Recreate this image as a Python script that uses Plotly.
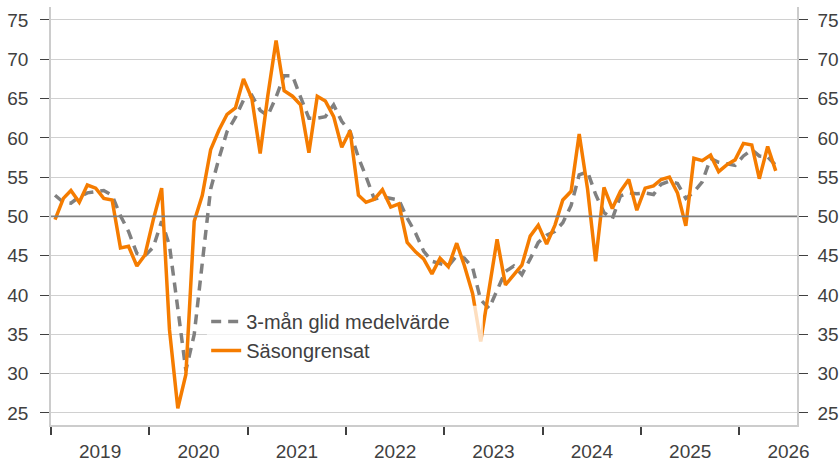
import plotly.graph_objects as go

# Monthly observations, Jan 2019 .. May 2026
months = [f"{2019 + i // 12}-{i % 12 + 1:02d}" for i in range(89)]

sasongrensat = [
    49.6, 52.3, 53.3, 51.8, 54.0, 53.6, 52.3, 52.1, 46.0, 46.2, 43.7, 45.1,
    49.6, 53.6, 35.6, 25.6, 29.9, 49.4, 52.7, 58.5, 61.0, 63.0, 63.8, 67.5,
    65.0, 58.0, 65.3, 72.4, 66.0, 65.3, 64.2, 58.1, 65.3, 64.7, 62.7, 58.8,
    60.9, 52.7, 51.8, 52.2, 53.4, 51.2, 51.6, 46.7, 45.5, 44.6, 42.7, 44.7,
    43.6, 46.6, 43.8, 40.2, 34.1, 40.7, 47.1, 41.3, 42.6, 43.8, 47.5, 48.9,
    46.5, 48.9, 52.1, 53.2, 60.5, 53.5, 44.3, 53.7, 51.0, 53.2, 54.7, 50.8,
    53.6, 53.9, 54.7, 55.0, 53.0, 48.8, 57.4, 57.1, 57.8, 55.7, 56.6, 57.2,
    59.3, 59.1, 54.8, 58.9, 55.8,
]

glid_medel = [
    52.7, 51.8, 51.7, 52.5, 53.0, 53.1, 53.3, 52.7, 50.1, 48.1, 45.3, 45.0,
    46.1, 49.4, 46.3, 38.3, 30.4, 35.0, 44.0, 53.5, 57.4, 60.8, 62.6, 64.8,
    65.4, 63.5, 62.8, 65.2, 67.9, 67.9, 65.2, 62.5, 62.5, 62.7, 64.2, 62.1,
    60.8, 57.5, 55.1, 52.2, 52.5, 52.3, 52.1, 49.8, 47.9, 45.6, 44.3, 44.0,
    43.7, 45.0, 44.7, 43.5, 39.4, 38.3, 40.6, 43.0, 43.7, 42.6, 44.6, 46.7,
    47.6, 48.1, 49.2, 51.4, 55.3, 55.7, 52.8, 50.5, 49.7, 52.6, 53.0, 52.9,
    53.0, 52.8, 54.1, 54.5, 54.2, 52.3, 53.1, 54.4, 57.4, 56.9, 56.7, 56.5,
    57.7, 58.5, 57.7, 57.6, 56.5,
]

x_dates = [m + "-16" for m in months]

FONT = "Liberation Sans, Arial, sans-serif"
TXT = "#404040"
ORANGE = "#F57C00"
GREY = "#808080"

fig = go.Figure()
fig.add_trace(go.Scatter(
    x=x_dates, y=glid_medel, name="3-mån glid medelvärde", mode="lines",
    line=dict(color=GREY, width=3.5, dash="10px,7px"),
))
fig.add_trace(go.Scatter(
    x=x_dates, y=sasongrensat, name="Säsongrensat", mode="lines",
    line=dict(color=ORANGE, width=3.5),
))
fig.add_trace(go.Scatter(
    x=x_dates, y=sasongrensat, yaxis="y2", mode="lines", showlegend=False,
    hoverinfo="skip", line=dict(color="rgba(0,0,0,0)", width=0),
))

fig.add_hline(y=50, line_color="#7f7f7f", line_width=1.8, layer="above")

# semi-transparent legend backdrop (as in the original)
fig.add_shape(
    type="rect", xref="paper", yref="paper", x0=0.209, x1=0.579, y0=0.141, y1=0.285,
    fillcolor="rgba(255,255,255,0.75)", line_width=0, layer="above",
)

yrange = [23.47, 76.65]
common_y = dict(
    range=yrange, tick0=25, dtick=5, ticks="outside", ticklen=9, tickwidth=1.3,
    tickcolor=TXT, showline=True, linecolor="#cccccc", linewidth=1.5,
    zeroline=False, tickfont=dict(family=FONT, size=19, color=TXT),
    automargin=False,
)

fig.update_layout(
    width=839, height=461,
    margin=dict(l=51, r=42, t=7, b=36, autoexpand=False),
    paper_bgcolor="white", plot_bgcolor="white",
    font=dict(family=FONT, color=TXT),
    xaxis=dict(
        type="date", range=["2019-01-01", "2026-08-03"],
        tick0="2019-01-01", dtick="M12", tickformat="%Y", ticklabelmode="period",
        ticks="outside", ticklen=8, tickwidth=1.5, tickcolor=TXT,
        showline=True, linecolor="#cccccc", linewidth=1.5, showgrid=False,
        tickfont=dict(family=FONT, size=19, color=TXT), automargin=False,
    ),
    yaxis=dict(showgrid=True, gridcolor="#d0d0d0", gridwidth=1,
               ticklabelstandoff=8, **common_y),
    yaxis2=dict(overlaying="y", side="right", showgrid=False,
                ticklabelstandoff=6, **common_y),
    legend=dict(
        x=0.208, y=0.294, xanchor="left", yanchor="top",
        bgcolor="rgba(0,0,0,0)", font=dict(family=FONT, size=20, color=TXT),
        tracegroupgap=0,
    ),
    showlegend=True,
)

fig.write_html(
    "out.html",
    config={"displayModeBar": False},
    post_script="document.body.style.margin='0';document.body.style.overflow='hidden';",
)
